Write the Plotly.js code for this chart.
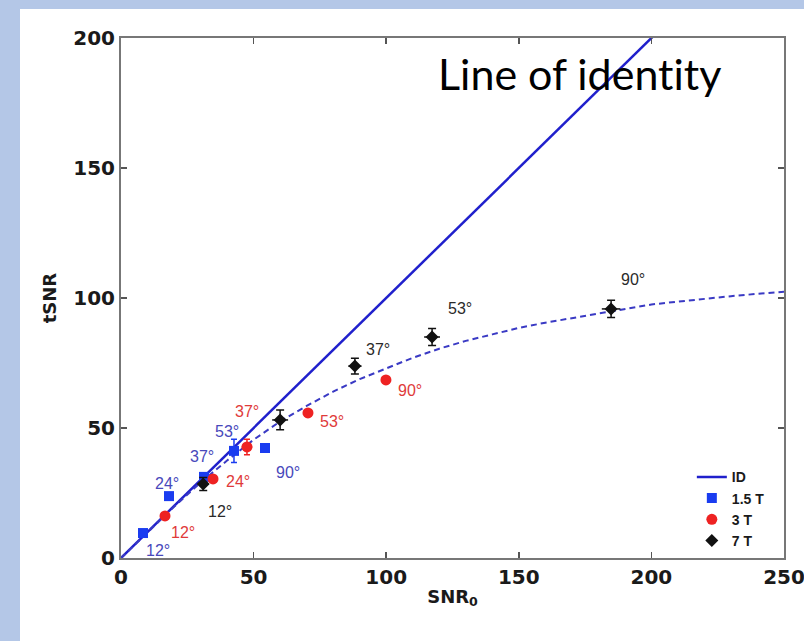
<!DOCTYPE html>
<html>
<head>
<meta charset="utf-8">
<script src="https://cdn.plot.ly/plotly-3.0.1.min.js"></script>
<style>
  html, body { margin: 0; padding: 0; background: #b4c7e7; width: 804px; height: 641px; overflow: hidden; }
  #panel { position: absolute; left: 20px; top: 9px; width: 784px; height: 632px; background: #ffffff; }
  text { font-variant-ligatures: none; font-feature-settings: "liga" 0; }
</style>
</head>
<body>
<div id="panel"></div>
<script>
// ---- data ----
var angles = ["12°", "24°", "37°", "53°", "90°"];

var snr15 = [8.3, 18.1, 31.3, 42.6, 54.3];
var tsnr15 = [9.6, 23.8, 31.2, 41.2, 42.3];
var err15 = [0, 0, 0, 4.5, 0];

var snr3 = [16.6, 34.7, 47.5, 70.5, 99.9];
var tsnr3 = [16.2, 30.4, 42.7, 55.8, 68.5];
var err3 = [0, 0, 3.0, 0, 0];
var err3x = [0, 0, 2.0, 0, 0];

var snr7 = [31.0, 60.0, 88.2, 117.3, 184.8];
var tsnr7 = [28.5, 53.1, 73.8, 85.0, 95.8];
var err7y = [2.5, 3.8, 3.0, 3.3, 3.3];
var err7x = [2.0, 3.0, 2.5, 3.0, 3.5];

var idX = [0, 250];
var idY = [0, 250];

var fitX = [0, 10, 20, 30, 40, 50, 60, 70, 80, 90, 100, 110, 120, 130, 140, 150, 160, 170, 180, 190, 200, 210, 220, 230, 240, 250];
var fitY = [0, 10, 19.7, 29, 37.5, 45.5, 52.5, 58.5, 64, 68.8, 73, 77, 80.5, 83.5, 86, 88.5, 90.5, 92.3, 94, 95.8, 97.5, 98.6, 99.7, 100.7, 101.6, 102.4];

var xTicks = [0, 50, 100, 150, 200, 250];
var yTicks = [0, 50, 100, 150, 200];

// label positions relative to their points (pixels)
var lab15 = [[15, -17], [-2, 13], [-2, 20], [-7, 19], [23, -24]];
var lab3 = [[18, -17], [25, -3], [0, 35], [24, -9], [24, -11]];
var lab7 = {0: [17, -28], 2: [23, 17], 3: [28, 29], 4: [22, 29]};

var cBlueLine = "#2020cc";
var cDash = "#3a3ac4";
var cBlue = "#1a3cf0";
var cRed = "#ee2222";
var cBlack = "#111111";
var cBlueTxt = "#4848bb";
var cRedTxt = "#e03a3a";
var cBlackTxt = "#2a2a2a";

var traces = [
  {x: idX, y: idY, mode: "lines", name: "ID", line: {color: cBlueLine, width: 2.5}},
  {x: fitX, y: fitY, mode: "lines", name: "fit", showlegend: false, line: {color: cDash, width: 2, dash: "6px,4px"}},
  {x: snr15, y: tsnr15, mode: "markers", name: "1.5 T", marker: {symbol: "square", size: 10, color: cBlue},
   error_y: {type: "data", array: err15, color: cBlue, thickness: 1.5, width: 3}},
  {x: snr3, y: tsnr3, mode: "markers", name: "3 T", marker: {symbol: "circle", size: 11, color: cRed},
   error_y: {type: "data", array: err3, color: cRed, thickness: 1.5, width: 3},
   error_x: {type: "data", array: err3x, color: cRed, thickness: 1.5, width: 0}},
  {x: snr7, y: tsnr7, mode: "markers", name: "7 T", marker: {symbol: "diamond", size: 10, color: cBlack},
   error_y: {type: "data", array: err7y, color: cBlack, thickness: 1.5, width: 4},
   error_x: {type: "data", array: err7x, color: cBlack, thickness: 1.5, width: 0}}
];

var annotations = [];
function addLabels(xs, ys, offs, color) {
  for (var i = 0; i < xs.length; i++) {
    var o = offs[i];
    if (!o) continue;
    annotations.push({x: xs[i], y: ys[i], xref: "x", yref: "y", text: angles[i], showarrow: false,
      xshift: o[0], yshift: o[1], font: {family: "Liberation Sans, Arial, sans-serif", size: 16, color: color}});
  }
}
addLabels(snr15, tsnr15, lab15, cBlueTxt);
addLabels(snr3, tsnr3, lab3, cRedTxt);
addLabels(snr7, tsnr7, lab7, cBlackTxt);

annotations.push({x: 172.7, y: 186.5, xref: "x", yref: "y", text: "Line of identity", showarrow: false,
  font: {family: "Lato, Open Sans, sans-serif", size: 43, color: "#000000"}});

var tickFont = {family: "DejaVu Sans, Liberation Sans, sans-serif", size: 20, color: "#1a1a1a", weight: "bold"};
var titleFont = {family: "DejaVu Sans, Liberation Sans, sans-serif", size: 18, color: "#1a1a1a", weight: "bold"};

var layout = {
  width: 784, height: 632,
  margin: {l: 101, r: 20, t: 29, b: 83},
  paper_bgcolor: "#ffffff", plot_bgcolor: "#ffffff",
  showlegend: true,
  legend: {x: 0.861, y: 0.186, xanchor: "left", yanchor: "top", bgcolor: "rgba(0,0,0,0)",
    font: {family: "Liberation Sans, Arial, sans-serif", size: 14, color: "#1a1a1a", weight: "bold"},
    tracegroupgap: 0, itemwidth: 30},
  xaxis: {range: [0, 250], tickvals: xTicks, ticktext: xTicks.map(String), ticks: "inside", ticklen: 6,
    tickcolor: "#555", tickwidth: 1.5, showline: true, linecolor: "#777", linewidth: 2, mirror: "ticks",
    showgrid: false, zeroline: false, tickfont: tickFont, ticklabeloverflow: "allow",
    title: {text: "SNR<sub>0</sub>", font: titleFont, standoff: 2}},
  yaxis: {range: [0, 200], tickvals: yTicks, ticktext: yTicks.map(String), ticks: "inside", ticklen: 6,
    tickcolor: "#555", tickwidth: 1.5, showline: true, linecolor: "#777", linewidth: 2, mirror: "ticks",
    showgrid: false, zeroline: false, tickfont: tickFont, ticklabeloverflow: "allow",
    title: {text: "tSNR", font: titleFont, standoff: 12}},
  annotations: annotations
};

Plotly.newPlot("panel", traces, layout, {displayModeBar: false, staticPlot: true});
</script>
</body>
</html>
